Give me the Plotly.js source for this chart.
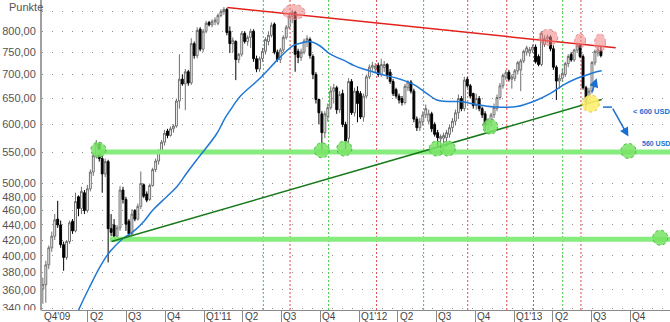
<!DOCTYPE html>
<html>
<head>
<meta charset="utf-8">
<script src="https://cdn.plot.ly/plotly-3.0.1.min.js"></script>
<style>html,body{margin:0;padding:0;background:#fff;}#chart{width:670px;height:322px;}</style>
</head>
<body>
<div id="chart"></div>
<script>
// ---- weekly candles (Punkte) ----
const firstWeek = '2009-12-16';
const openVals = [361,366,389,410,425,448,440,414,398,418,445,432,480,463,486,460,492,518,545,565,540,515,535,435,440,425,436,490,476,445,428,460,448,466,498,484,476,497,522,536,552,568,588,580,592,597,645,690,680,706,682,770,742,805,757,800,822,816,824,820,840,850,856,800,770,775,733,745,795,775,785,800,735,712,735,752,775,790,818,750,733,755,785,810,838,848,752,738,750,776,780,740,700,648,620,585,615,632,665,672,628,660,600,575,685,622,665,660,614,655,695,716,712,720,700,715,722,705,685,668,655,650,642,672,684,665,610,594,605,618,606,620,600,585,574,575,576,582,594,606,622,650,630,690,676,660,636,650,630,620,600,604,618,630,652,676,694,705,690,692,708,710,730,750,748,755,762,740,722,768,782,786,758,716,686,692,700,724,745,732,755,766,740,672,642,665,726,748,753];
const highVals = [374,394,413,431,455,474,446,418,420,446,448,486,482,495,490,498,522,550,572,568,545,540,538,455,448,440,496,495,480,448,462,462,470,519,500,488,500,525,540,556,572,590,592,596,600,650,745,700,712,710,783,775,810,810,805,826,826,830,835,845,856,862,860,812,785,778,748,800,800,790,806,805,742,740,760,785,800,822,822,756,760,790,815,845,855,852,758,758,782,790,785,745,705,650,625,625,640,675,680,676,665,668,605,692,690,672,675,665,660,700,722,728,725,726,735,730,725,712,690,672,660,655,680,688,688,670,615,612,625,638,628,624,604,590,582,585,590,600,612,628,658,655,695,695,680,662,660,655,634,625,612,622,640,658,682,702,710,710,700,712,730,735,756,765,762,768,768,745,800,790,792,790,766,720,700,712,728,745,750,758,772,770,745,676,672,730,756,762,764];
const lowVals = [345,346,384,405,420,436,410,382,395,415,428,430,452,455,455,457,488,512,540,535,486,510,392,425,418,420,432,470,432,425,425,445,446,462,478,472,474,495,518,530,548,562,575,578,585,594,630,676,627,676,678,735,736,752,750,795,812,810,815,815,835,842,790,748,750,688,725,740,770,765,760,728,705,706,728,745,766,785,745,728,725,750,780,805,820,706,725,730,745,762,735,690,640,600,550,575,605,628,640,620,622,595,556,565,618,615,604,610,605,650,690,708,705,695,695,705,690,680,655,650,640,636,638,665,660,604,588,588,598,612,600,586,578,560,560,562,560,576,586,598,610,625,625,672,650,630,628,625,612,588,590,596,612,625,648,670,688,685,670,686,700,665,725,742,740,750,724,718,718,762,772,752,710,647,670,685,695,716,728,728,748,736,668,630,638,660,720,740,738];
const closeVals = [366,389,410,425,447,440,414,398,418,443,432,473,463,488,460,492,518,545,565,540,515,535,435,430,425,436,490,476,441,428,455,448,466,500,481,475,497,522,536,552,568,584,580,592,597,645,690,680,706,682,770,742,802,757,800,820,816,824,828,840,850,856,797,770,778,733,745,795,775,785,800,735,712,735,752,780,790,815,750,733,755,785,810,838,848,745,738,750,776,782,742,700,648,622,585,620,632,665,672,628,658,600,570,685,622,665,640,614,655,695,716,720,718,700,722,722,698,685,660,655,647,642,675,684,665,610,594,605,618,630,620,592,582,576,578,580,585,594,606,622,650,630,688,676,655,636,650,630,618,600,608,618,632,652,676,698,704,690,695,708,726,730,752,760,756,762,728,722,795,782,786,758,716,686,692,702,724,740,732,755,766,740,672,642,665,726,752,755,742];

// ---- 40-week moving average ----
const maDates = ['2010-03-01','2010-03-14','2010-04-06','2010-04-30','2010-05-23','2010-06-23','2010-07-17','2010-08-10','2010-09-02','2010-10-04','2010-10-28','2010-11-20','2010-12-14','2011-01-30','2011-02-18','2011-03-03','2011-03-26','2011-05-12','2011-06-28','2011-07-30','2011-08-20','2011-09-07','2011-09-30','2011-10-24','2011-12-03','2011-12-19','2012-01-11','2012-02-20','2012-04-07','2012-05-08','2012-06-09','2012-07-02','2012-08-03','2012-08-26','2012-10-12','2012-11-21','2013-01-07','2013-02-15','2013-03-26','2013-04-27','2013-05-29','2013-06-21','2013-07-14','2013-07-26'];
const maVals = [328,342,364,387,405,422,431,444,461,480,495,516,538,583,611,627,654,692,738,766,772,775,765,746,728,720,712,701,690,679,660,647,644,644,637,633,634,644,660,678,692,699,706,708];

// ---- trend lines and levels ----
const resistDates = ['2011-02-24','2013-08-28'];
const resistVals = [861,760];
const supportDates = ['2010-05-27','2013-07-26'];
const supportVals = [418,648];
const band550Dates = ['2010-04-23','2014-01-03'];
const band550Vals = [551,551];
const band420Dates = ['2010-05-23','2014-01-03'];
const band420Vals = [421,421];

// ---- markers ----
const greenDates = ['2010-04-26','2011-10-05','2011-11-27','2012-07-02','2012-07-28','2012-11-05','2013-09-27','2013-12-11'];
const greenVals = [555,554,557,557,557,596,553,423];
const yellowDates = ['2013-06-30'];
const yellowVals = [640];
const pinkDates = ['2011-07-31','2013-03-22','2013-06-05','2013-07-22'];
const pinkVals = [849,785,777,772];
const pinkW = [22,19,11,11];
const pinkH = [15,16,14,18];

// ---- vertical markers ----
const redMarks = ['2011-07-22','2012-02-11','2012-09-13','2012-12-14','2013-02-15','2013-06-07'];
const greenMarks = ['2011-05-20','2011-10-21','2012-06-01','2013-04-25'];

// ---- axes ----
const yTickVals = [340,360,380,400,420,440,460,480,500,550,600,650,700,750,800,850];
const yTickText = ['340,00','360,00','380,00','400,00','420,00','440,00','460,00','480,00','500,00','550,00','600,00','650,00','700,00','750,00','800,00',''];
const qDates = ['2010-04-01','2010-07-01','2010-10-01','2011-01-01','2011-04-01','2011-07-01','2011-10-01','2012-01-01','2012-04-01','2012-07-01','2012-10-01','2013-01-01','2013-04-01','2013-07-01','2013-10-01'];
const qText = ['Q2','Q3','Q4',"Q1'11",'Q2','Q3','Q4',"Q1'12",'Q2','Q3','Q4',"Q1'13",'Q2','Q3','Q4'];
const xStart = '2009-12-14', xEnd = '2014-01-03';
const firstLabel = "Q4'09";

// ---- arrows ----
const arrowUp = {from:['2013-07-02',660], to:['2013-07-14',692]};
const arrowDown = {from:['2013-08-19',633], to:['2013-09-27',578], lead:['2013-07-29',633]};

const Y0 = Math.log10(338.4), Y1 = Math.log10(881);
const yPaper = v => (Math.log10(v) - Y0) / (Y1 - Y0);

const start = new Date(firstWeek + 'T00:00:00Z').getTime();
const weeks = closeVals.map((_, i) => new Date(start + i * 7 * 86400000).toISOString().slice(0, 10));

const FONT = 'Liberation Sans, Arial, sans-serif';
const BLUE = '#1a6fd0';

const traces = [
  {type:'scatter', mode:'lines', x:band550Dates, y:band550Vals, line:{color:'#86ec7e', width:5}, hoverinfo:'skip'},
  {type:'scatter', mode:'lines', x:band420Dates, y:band420Vals, line:{color:'#86ec7e', width:5}, hoverinfo:'skip'},
  {type:'candlestick', x:weeks, open:openVals, high:highVals, low:lowVals, close:closeVals,
    increasing:{line:{color:'#6e6e6e', width:1}, fillcolor:'#ffffff'},
    decreasing:{line:{color:'#000000', width:1}, fillcolor:'#000000'},
    whiskerwidth:0},
  {type:'scatter', mode:'lines', x:maDates, y:maVals, line:{color:'#1f78d6', width:1.5, shape:'spline'}, hoverinfo:'skip'},
  {type:'scatter', mode:'lines', x:resistDates, y:resistVals, line:{color:'#e3211c', width:1.5}, hoverinfo:'skip'},
  {type:'scatter', mode:'lines', x:supportDates, y:supportVals, line:{color:'#17791a', width:1.5}, hoverinfo:'skip'},
  {type:'scatter', mode:'lines', x:[arrowDown.lead[0], arrowDown.from[0]], y:[arrowDown.lead[1], arrowDown.from[1]], line:{color:BLUE, width:1.5}, hoverinfo:'skip', cliponaxis:false}
];

const shapes = [];
redMarks.forEach(d => shapes.push({type:'line', xref:'x', yref:'paper', x0:d, x1:d, y0:0, y1:1, layer:'below', line:{color:'#e04848', width:1, dash:'2px,2px'}}));
greenMarks.forEach(d => shapes.push({type:'line', xref:'x', yref:'paper', x0:d, x1:d, y0:0, y1:1, layer:'below', line:{color:'#3cc83c', width:1, dash:'2px,2px'}}));
function ell(d, v, w, h, fill, stroke) {
  shapes.push({type:'circle', xref:'x', yref:'paper', xsizemode:'pixel', ysizemode:'pixel',
    xanchor:d, yanchor:yPaper(v), x0:-w/2, x1:w/2, y0:-h/2, y1:h/2, layer:'above',
    fillcolor:fill, line:{color:stroke, width:1, dash:'dot'}});
}
greenDates.forEach((d, i) => ell(d, greenVals[i], 15, 15, 'rgba(120,228,100,0.85)', '#4cb84c'));
yellowDates.forEach((d, i) => ell(d, yellowVals[i], 17, 17, 'rgba(255,240,110,0.9)', '#d8c640'));
pinkDates.forEach((d, i) => ell(d, pinkVals[i], pinkW[i], pinkH[i], 'rgba(240,130,130,0.55)', '#e08a8a'));
// hide lower half of the clipped bottom label
shapes.push({type:'rect', xref:'paper', yref:'paper', x0:-42/628, x1:-0.001, y0:-12/310, y1:-0.001, layer:'above', fillcolor:'#ffffff', line:{width:0}});

const annotations = [];
annotations.push({xref:'paper', yref:'paper', x:0, y:1, xshift:-35, yshift:1, xanchor:'left', yanchor:'top', text:'Punkte', showarrow:false, font:{family:FONT, size:11, color:'#555'}});
annotations.push({xref:'paper', yref:'paper', x:0, y:0, xshift:0, yshift:1, xanchor:'left', yanchor:'top', text:firstLabel, showarrow:false, font:{family:FONT, size:10, color:'#444'}});
qDates.forEach((d, i) => annotations.push({xref:'x', yref:'paper', x:d, y:0, xshift:0, yshift:1, xanchor:'left', yanchor:'top', text:qText[i], showarrow:false, font:{family:FONT, size:10, color:'#444'}}));
annotations.push({xref:'x', yref:'y', axref:'x', ayref:'y', x:arrowUp.to[0], y:Math.log10(arrowUp.to[1]), ax:arrowUp.from[0], ay:Math.log10(arrowUp.from[1]), text:'', showarrow:true, arrowhead:2, arrowsize:1.2, arrowwidth:1.5, arrowcolor:BLUE, standoff:0, startstandoff:0});
annotations.push({xref:'x', yref:'y', axref:'x', ayref:'y', x:arrowDown.to[0], y:Math.log10(arrowDown.to[1]), ax:arrowDown.from[0], ay:Math.log10(arrowDown.from[1]), text:'', showarrow:true, arrowhead:2, arrowsize:1.2, arrowwidth:1.5, arrowcolor:BLUE, standoff:0, startstandoff:0});
annotations.push({xref:'x', yref:'y', x:'2013-10-03', y:Math.log10(625), xanchor:'left', yanchor:'middle', text:'<b>&lt; 600 USD</b>', showarrow:false, font:{family:FONT, size:7.5, color:BLUE}});
annotations.push({xref:'x', yref:'y', x:'2013-10-24', y:Math.log10(565), xanchor:'left', yanchor:'middle', text:'<b>560 USD</b>', showarrow:false, font:{family:FONT, size:7, color:BLUE}});

const layout = {
  width:670, height:322,
  margin:{l:42, r:0, t:0, b:12, pad:0},
  paper_bgcolor:'#ffffff', plot_bgcolor:'#ffffff',
  showlegend:false,
  boxgap:0.1,
  font:{family:FONT, size:11, color:'#444'},
  xaxis:{type:'date', range:[xStart, xEnd], tickmode:'array', tickvals:qDates, ticktext:qDates.map(() => ''),
    ticks:'outside', ticklen:12, tickcolor:'#8a8a8a', tickwidth:1,
    showline:true, linecolor:'#8a8a8a', linewidth:1, showgrid:false, zeroline:false,
    rangeslider:{visible:false}, fixedrange:true},
  yaxis:{type:'log', range:[Y0, Y1], tickmode:'array', tickvals:yTickVals, ticktext:yTickText,
    ticks:'', showline:true, linecolor:'#a0a0a0', linewidth:2,
    showgrid:true, gridcolor:'#8c8c8c', gridwidth:1, griddash:'1px,9px', zeroline:false,
    tickfont:{family:FONT, size:11, color:'#555'}, ticklabelstandoff:2, fixedrange:true},
  shapes:shapes,
  annotations:annotations
};

Plotly.newPlot('chart', traces, layout, {staticPlot:true, displayModeBar:false});
</script>
</body>
</html>
